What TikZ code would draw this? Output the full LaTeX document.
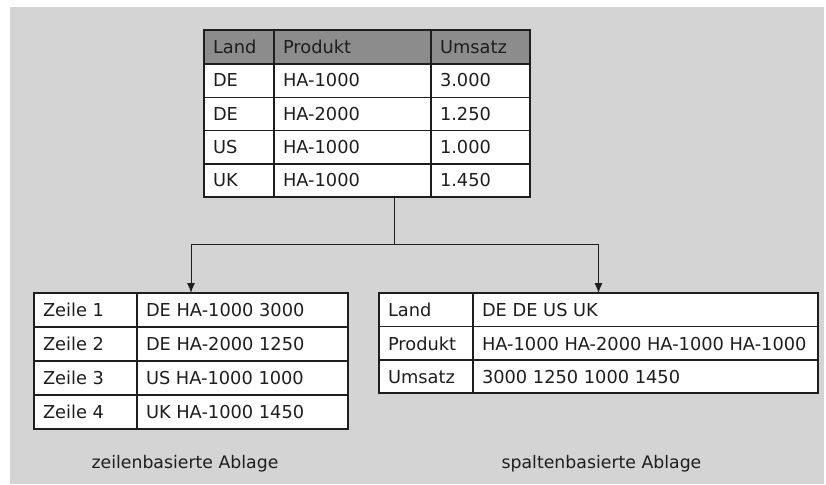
\documentclass[tikz,border=0pt]{standalone}
\usepackage{fontspec}
\setmainfont{DejaVu Sans}
\usetikzlibrary{arrows.meta}
\definecolor{bggrey}{HTML}{D4D4D4}
\definecolor{headgrey}{HTML}{8C8C8C}
\definecolor{ink}{HTML}{1E1E1E}
\begin{document}
\begin{tikzpicture}[x=1pt,y=-1pt,
  every node/.style={inner sep=0pt, outer sep=0pt, text=ink},
  tablebox/.style={draw=ink, line width=1.3pt, fill=white, rectangle},
  gridline/.style={draw=ink, line width=1.1pt},
  celltext/.style={anchor=base west, font=\fontsize{17.8}{20}\selectfont},
  caption/.style={anchor=base, font=\fontsize{17.3}{20}\selectfont},
  link/.style={draw=ink, line width=1pt},
  arrowlink/.style={link, -{Latex[length=10pt,width=8pt]}}]
\useasboundingbox (0,0) rectangle (826,484);
\fill[bggrey] (10,7) rectangle (824,484);

% source table
\node[tablebox, minimum width=326pt, minimum height=167pt] (src) at (367,113.5) {};
\fill[headgrey] (204,30) rectangle (530,64);
\draw[tablebox, fill=none] (204,30) rectangle (530,197);
\foreach \y in {64,97.3,130.6,164} \draw[gridline] (204,\y) -- (530,\y);
\foreach \x in {274,431} \draw[gridline] (\x,30) -- (\x,197);
\node[celltext] (h1) at (213,53.5) {Land};
\node[celltext] (h2) at (283,53.5) {Produkt};
\node[celltext] (h3) at (440,53.5) {Umsatz};
\foreach \l/\p/\u [count=\i] in {DE/HA-1000/3.000, DE/HA-2000/1.250, US/HA-1000/1.000, UK/HA-1000/1.450}{
  \node[celltext] (sl\i) at (213,53.5+33.3*\i) {\l};
  \node[celltext] (sp\i) at (283,53.5+33.3*\i) {\p};
  \node[celltext] (su\i) at (440,53.5+33.3*\i) {\u};
}

% row-based storage
\node[tablebox, minimum width=314pt, minimum height=136pt] (rowtab) at (191,361) {};
\foreach \y in {327,361,395} \draw[gridline] (34,\y) -- (348,\y);
\draw[gridline] (137,293) -- (137,429);
\foreach \r/\v [count=\i] in {Zeile 1/DE HA-1000 3000, Zeile 2/DE HA-2000 1250, Zeile 3/US HA-1000 1000, Zeile 4/UK HA-1000 1450}{
  \node[celltext] (rn\i) at (43,316.5+34*\i-34) {\r};
  \node[celltext] (rv\i) at (146,316.5+34*\i-34) {\v};
}

% column-based storage
\node[tablebox, minimum width=439pt, minimum height=100pt] (coltab) at (598.5,343) {};
\foreach \y in {326.5,360} \draw[gridline] (379,\y) -- (818,\y);
\draw[gridline] (473,293) -- (473,393);
\foreach \c/\v [count=\i] in {Land/DE DE US UK, Produkt/HA-1000 HA-2000 HA-1000 HA-1000, Umsatz/3000 1250 1000 1450}{
  \node[celltext] (cn\i) at (388,316.5+33.5*\i-33.5) {\c};
  \node[celltext] (cv\i) at (482,316.5+33.5*\i-33.5) {\v};
}

% connectors
\coordinate (split) at (394,244);
\draw[link] (src.south -| split) -- (split);
\draw[arrowlink] (split) -| (rowtab.north);
\draw[arrowlink] (split) -| (coltab.north);

% captions
\node[caption] (rowcap) at (185,468) {zeilenbasierte Ablage};
\node[caption] (colcap) at (601.5,468) {spaltenbasierte Ablage};
\end{tikzpicture}
\end{document}
